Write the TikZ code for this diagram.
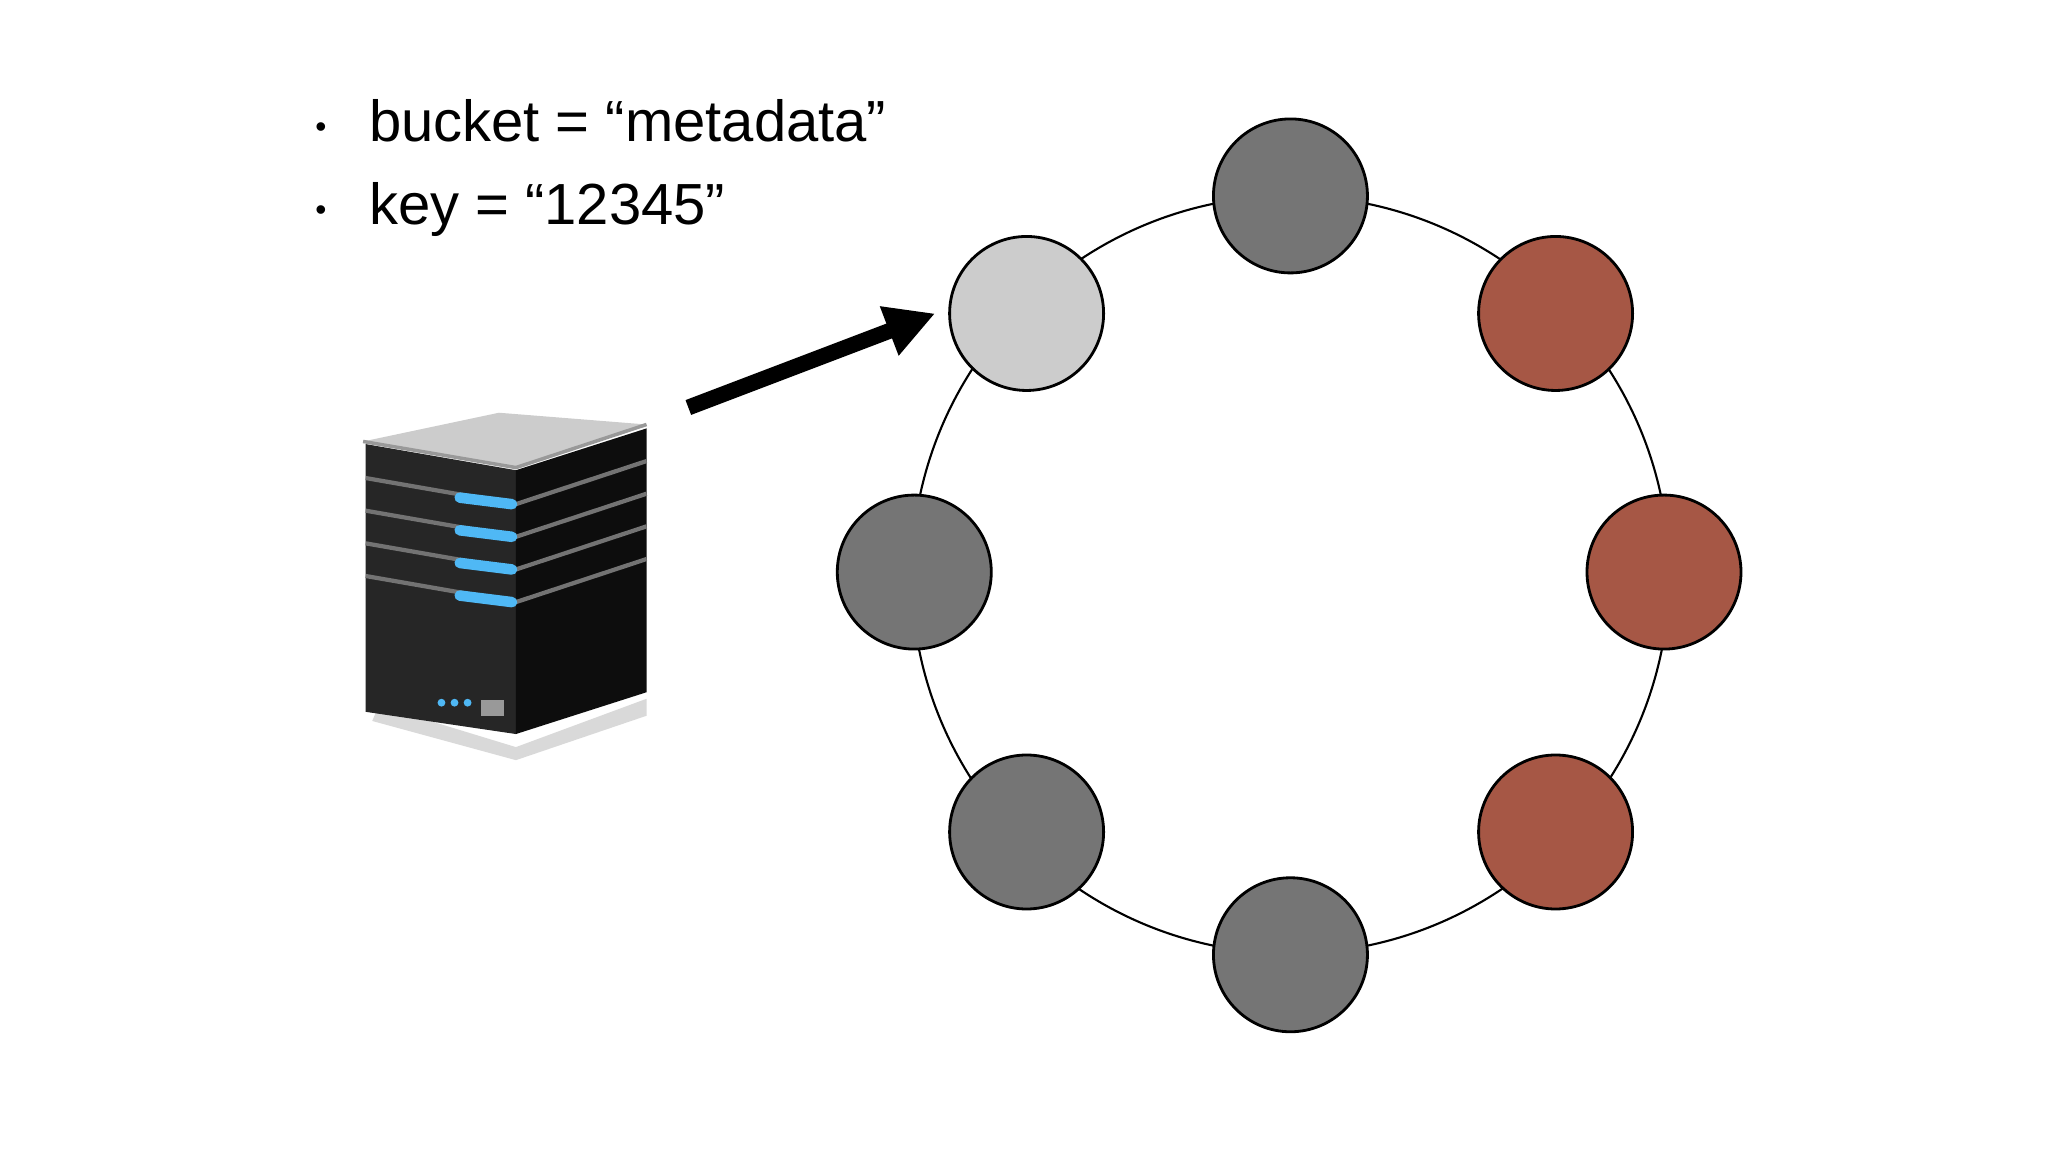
\documentclass[tikz,border=0pt]{standalone}
\usepackage{fontspec}
\setmainfont{Liberation Sans}
\usetikzlibrary{arrows.meta}
\definecolor{dg}{HTML}{757575}
\definecolor{lg}{HTML}{CCCCCC}
\definecolor{rd}{HTML}{A65745}
\definecolor{led}{HTML}{4FB8F5}
\tikzset{
  vnode/.style={circle,draw=black,line width=0.8pt,minimum size=1.54cm,inner sep=0pt},
  ring/.style={draw=black,line width=0.6pt},
  txt/.style={anchor=base west,font=\fontsize{16.5pt}{20pt}\selectfont,inner sep=0pt},
}
\begin{document}
\begin{tikzpicture}[x=0.01306cm,y=-0.01306cm]
\useasboundingbox (0,0) rectangle (1568,882);
\coordinate (c) at (988,440);
\draw[ring] (c) circle[radius=290];
\node[vnode,fill=dg] (n1) at (988,150) {};
\node[vnode,fill=rd] (n2) at (1191,240) {};
\node[vnode,fill=rd] (n3) at (1274,438) {};
\node[vnode,fill=rd] (n4) at (1191,637) {};
\node[vnode,fill=dg] (n5) at (988,731) {};
\node[vnode,fill=dg] (n6) at (786,637) {};
\node[vnode,fill=dg] (n7) at (700,438) {};
\node[vnode,fill=lg] (n8) at (786,240) {};
\node[txt] (b1) at (241,105) {\fontsize{9pt}{10pt}\selectfont •};
\node[txt] (t1) at (282,108) {bucket = “metadata”};
\node[txt] (b2) at (241,169) {\fontsize{9pt}{10pt}\selectfont •};
\node[txt] (t2) at (282,172) {key = “12345”};
% server
\fill[black!15] (290,540) -- (395,572) -- (495,535) -- (495,548) -- (395,582) -- (285,552) -- cycle;
\fill[black!85] (280,340) -- (395,360) -- (395,562) -- (280,545) -- cycle;
\fill[black!95] (395,360) -- (495,328) -- (495,530) -- (395,562) -- cycle;
\fill[black!20] (278,338) -- (395,358) -- (495,325) -- (382,316) -- cycle;
\draw[black!40,line width=1pt] (278,338) -- (395,358) -- (495,325);
\foreach \y in {0,25,50,75}{
  \draw[black!55,line width=1.2pt] (280,366+\y) -- (395,386+\y) -- (495,353+\y);
  \draw[led,line width=3pt,line cap=round] (352,381+\y) -- (392,386+\y);
}
\foreach \x in {338,348,358}{\fill[led] (\x,538) circle[radius=3];}
\fill[black!40] (368,536) rectangle (386,548);
\coordinate (srv) at (527,312);
\coordinate (tip) at (716,240);
\draw[line width=4.5pt,-{Triangle[length=14pt,width=14pt]}] (srv) -- (tip);
\end{tikzpicture}
\end{document}
